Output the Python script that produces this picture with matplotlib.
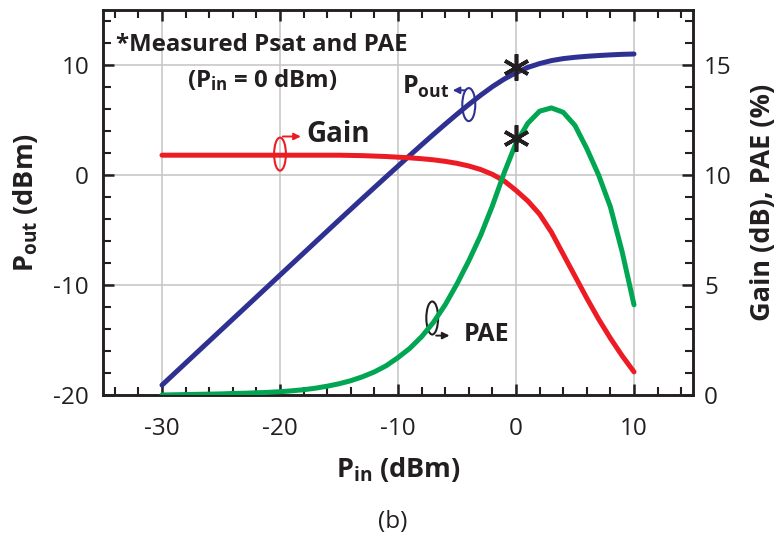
import matplotlib
matplotlib.use("Agg")
import matplotlib.pyplot as plt
from matplotlib.patches import Ellipse
from matplotlib.ticker import MultipleLocator

plt.rcParams['font.family'] = ['Open Sans', 'DejaVu Sans']
plt.rcParams['mathtext.fontset'] = 'custom'
plt.rcParams['mathtext.rm'] = 'Open Sans'
plt.rcParams['mathtext.bf'] = 'Open Sans:bold'
plt.rcParams['axes.unicode_minus'] = False

# ---- data ----
pin = [-30, -29, -28, -27, -26, -25, -24, -23, -22, -21, -20, -19, -18, -17, -16, -15,
       -14, -13, -12, -11, -10, -9, -8, -7, -6, -5, -4, -3, -2, -1, 0, 1, 2, 3, 4, 5, 6,
       7, 8, 9, 10]
pout = [-19.1, -18.1, -17.1, -16.1, -15.1, -14.1, -13.1, -12.1, -11.1, -10.1, -9.1, -8.1,
        -7.1, -6.1, -5.1, -4.1, -3.11, -2.12, -1.14, -0.16, 0.81, 1.78, 2.74, 3.69, 4.62,
        5.53, 6.41, 7.25, 8.03, 8.72, 9.3, 9.78, 10.13, 10.4, 10.58, 10.7, 10.79, 10.86,
        10.92, 10.97, 11.0]
gain = [10.9, 10.9, 10.9, 10.9, 10.9, 10.9, 10.9, 10.9, 10.9, 10.9, 10.9, 10.9, 10.9,
        10.9, 10.9, 10.9, 10.89, 10.88, 10.86, 10.84, 10.81, 10.78, 10.74, 10.69, 10.62,
        10.53, 10.41, 10.25, 10.03, 9.73, 9.3, 8.82, 8.22, 7.4, 6.4, 5.4, 4.4, 3.45, 2.58,
        1.78, 1.05]
pae = [0.0, 0.01, 0.02, 0.03, 0.04, 0.05, 0.07, 0.08, 0.1, 0.12, 0.15, 0.19, 0.24, 0.31,
       0.4, 0.51, 0.65, 0.83, 1.05, 1.33, 1.7, 2.12, 2.65, 3.3, 4.1, 5.05, 6.1, 7.25, 8.6,
       10.1, 11.45, 12.35, 12.9, 13.05, 12.85, 12.25, 11.2, 10.0, 8.55, 6.5, 4.1]
psat_marker = (0, 9.8)
pae_marker = (0, 11.7)

xticks = [-30, -20, -10, 0, 10]
yticks_left = [-20, -10, 0, 10]
yticks_right = [0, 5, 10, 15]

BLUE = '#2e3192'
RED = '#ed1c24'
GREEN = '#00a651'
TXT = '#231f20'

fig = plt.figure(figsize=(7.83, 5.40), dpi=100)
ax = fig.add_axes([103/783, 1-395/540, 590/783, 385/540])
ax2 = ax.twinx()

ax.set_xlim(-35, 15)
ax.set_ylim(-20, 15)
ax2.set_ylim(0, 17.5)

ax.set_xticks(xticks)
ax.set_yticks(yticks_left)
ax2.set_yticks(yticks_right)
ax.xaxis.set_minor_locator(MultipleLocator(2))
ax.yaxis.set_minor_locator(MultipleLocator(2))
ax2.yaxis.set_minor_locator(MultipleLocator(1))

ax.grid(True, which='major', color='#c8c8c8', lw=1.2)
ax.set_axisbelow(True)

for a in (ax, ax2):
    for s in a.spines.values():
        s.set_linewidth(1.8)
        s.set_color(TXT)
ax.tick_params(axis='both', which='major', direction='in', length=8, width=1.8,
               labelsize=17.5, colors=TXT, top=True)
ax.tick_params(axis='x', which='major', pad=16)
ax.tick_params(axis='y', which='major', pad=10)
ax.tick_params(axis='both', which='minor', direction='in', length=6, width=1.5,
               colors=TXT, top=True)
ax.tick_params(axis='y', right=False, which='both')
ax2.tick_params(axis='y', which='major', direction='in', length=8, width=1.8,
                labelsize=17.5, colors=TXT, pad=8)
ax2.tick_params(axis='y', which='minor', direction='in', length=6, width=1.5, colors=TXT)

ax.plot(pin, pout, color=BLUE, lw=3.6, solid_capstyle='round', zorder=3)
ax2.plot(pin, gain, color=RED, lw=3.6, solid_capstyle='round', zorder=3)
ax2.plot(pin, pae, color=GREEN, lw=3.6, solid_capstyle='round', zorder=3)

ax2.plot([psat_marker[0]], [(psat_marker[1] + 20) / 2], marker=(6, 2, 0), ms=19,
         mew=2.6, color=TXT, zorder=5)
ax2.plot([pae_marker[0]], [pae_marker[1]], marker=(6, 2, 0), ms=19, mew=2.6,
         color=TXT, zorder=5)

ax.set_xlabel(r'$\mathbf{P_{in}}$ (dBm)', fontsize=19.5, fontweight='bold', color=TXT)
ax.set_ylabel(r'$\mathbf{P_{out}}$ (dBm)', fontsize=19.5, fontweight='bold', color=TXT)
ax2.set_ylabel('Gain (dB), PAE (%)', fontsize=19.5, fontweight='bold', color=TXT)
ax.xaxis.set_label_coords(0.5, (395 - 470) / 385, transform=ax.transAxes)
ax.xaxis.label.set_va('center')
ax.yaxis.set_label_coords((26 - 103) / 590, 0.5, transform=ax.transAxes)
ax.yaxis.label.set_va('center')
ax2.yaxis.set_label_coords((763 - 103) / 590, 0.5, transform=ax2.transAxes)
ax2.yaxis.label.set_va('center')

# annotations (left-axis data coordinates)
ax.text(-33.9, 11.8, '*Measured Psat and PAE', fontsize=17.3, fontweight='bold',
        color=TXT, ha='left', va='center', zorder=6)
ax.text(-27.9, 8.6, r'($\mathbf{P_{in}}$ = 0 dBm)', fontsize=17.3, fontweight='bold',
        color=TXT, ha='left', va='center', zorder=6)
ax.text(-9.7, 8.0, r'$\mathbf{P_{out}}$', fontsize=18, fontweight='bold', color=TXT,
        ha='left', va='center', zorder=6)
ax.text(-17.8, 3.7, 'Gain', fontsize=20, fontweight='bold', color=TXT,
        ha='left', va='center', zorder=6)
ax.text(-4.4, -14.5, 'PAE', fontsize=18, fontweight='bold', color=TXT,
        ha='left', va='center', zorder=6)

def ring(x, y, w, h, color):
    e = Ellipse((x, y), w, h, fill=False, ec=color, lw=1.5, zorder=6)
    ax.add_patch(e)

ring(-4.0, 6.4, 1.1, 3.0, BLUE)
ax.annotate('', xy=(-5.6, 7.7), xytext=(-4.1, 7.7),
            arrowprops=dict(arrowstyle='-|>', color=BLUE, lw=1.4, mutation_scale=10),
            zorder=6)
ring(-20.0, 1.9, 1.0, 3.0, RED)
ax.annotate('', xy=(-18.0, 3.5), xytext=(-20.0, 3.5),
            arrowprops=dict(arrowstyle='-|>', color=RED, lw=1.4, mutation_scale=10),
            zorder=6)
ring(-7.1, -13.0, 1.0, 3.0, TXT)
ax.annotate('', xy=(-5.4, -14.6), xytext=(-7.0, -14.6),
            arrowprops=dict(arrowstyle='-|>', color=TXT, lw=1.4, mutation_scale=10),
            zorder=6)

fig.text(393/783, 1-522/540, '(b)', fontsize=17.5, color=TXT, ha='center', va='center')

fig.savefig('out.png', dpi=100)
